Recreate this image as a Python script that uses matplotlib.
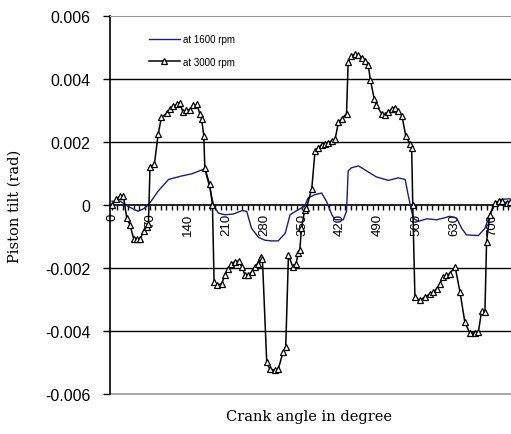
import matplotlib.pyplot as plt
import numpy as np

# angle de vilebrequin (deg) et inclinaison du piston (rad)
ang_3000 = [0, 8, 15, 21, 27, 33, 40, 46, 52, 58, 64, 67, 70, 78, 85, 91, 101,
            107, 113, 119, 125, 131, 137, 144, 150, 156, 162, 165, 169, 171, 180,
            185, 188, 193, 202, 208, 214, 220, 227, 233, 239, 245, 251, 257, 263,
            268, 274, 277, 285, 291, 300, 306, 315, 320, 325, 333, 339, 343, 346,
            349, 355, 358, 368, 374, 380, 386, 392, 398, 405, 411, 417, 423, 432,
            435, 441, 447, 454, 460, 466, 472, 476, 483, 487, 497, 503, 509, 515,
            521, 527, 534, 541, 549, 552, 554, 558, 567, 576, 586, 592, 598, 604,
            610, 616, 622, 632, 641, 650, 659, 668, 675, 681, 687, 690, 696, 705,
            712, 718, 727, 733]
tilt_3000 = [0.0, 0.00018, 0.0003, 0.00028, -0.0004, -0.00063, -0.00108, -0.00108,
             -0.00108, -0.00083, -0.0007, -0.0006, 0.00122, 0.00129, 0.00225,
             0.00278, 0.00291, 0.00305, 0.00313, 0.00319, 0.00323, 0.00294, 0.003,
             0.00302, 0.00316, 0.00319, 0.00289, 0.00273, 0.0022, 0.00116, 0.00065,
             0.0, -0.00245, -0.00255, -0.0025, -0.00223, -0.00202, -0.00186, -0.0018,
             -0.00178, -0.00196, -0.00223, -0.00221, -0.00214, -0.00196, -0.00186,
             -0.00164, -0.0017, -0.005, -0.00522, -0.00524, -0.00522, -0.00468,
             -0.0045, -0.00159, -0.00196, -0.00186, -0.00154, -0.00143, -0.00074,
             -0.00015, -0.0001, 0.00052, 0.00172, 0.00182, 0.00191, 0.00195,
             0.00198, 0.00204, 0.00209, 0.00262, 0.00273, 0.0029, 0.00454, 0.00472,
             0.00479, 0.00476, 0.00468, 0.00458, 0.00444, 0.00396, 0.00337, 0.00316,
             0.00289, 0.00287, 0.00294, 0.00305, 0.00308, 0.00298, 0.00284, 0.0022,
             0.00193, 0.00182, 0.0, -0.00292, -0.00303, -0.00292, -0.00282, -0.00276,
             -0.00266, -0.0025, -0.00228, -0.00223, -0.00218, -0.00196, -0.00276,
             -0.00372, -0.00406, -0.00406, -0.00402, -0.00335, -0.0034, -0.00116,
             -0.00031, 0.00006, 0.00012, 0.00012, 0.00006, 0.0001]

ang_1600 = [0, 15, 30, 48, 58, 67, 85, 104, 128, 147, 171, 180, 187, 196, 208,
            223, 239, 248, 257, 270, 282, 294, 306, 319, 328, 343, 355, 361, 374,
            386, 395, 405, 411, 426, 432, 435, 441, 454, 469, 487, 509, 527, 540,
            546, 552, 555, 564, 580, 598, 610, 622, 635, 644, 653, 675, 687, 696,
            705, 715, 733]
tilt_1600 = [0.00012, 0.00012, -0.00005, -0.0002, -0.00012, 0.0, 0.00044, 0.00081,
             0.00092, 0.00099, 0.00115, 0.00054, 0.0, -0.00026, -0.00031, -0.00029,
             -0.00018, -0.0002, -0.00074, -0.00103, -0.00112, -0.00114, -0.00114,
             -0.0009, -0.00031, -0.00015, -0.00004, 0.00022, 0.00033, 0.00038,
             0.00012, -0.00031, -0.00047, -0.00047, -0.0002, 0.00108, 0.00118,
             0.00124, 0.00108, 0.00089, 0.00078, 0.00086, 0.00081, 0.00028, -0.0002,
             -0.00042, -0.00052, -0.00044, -0.00047, -0.00042, -0.00036, -0.00042,
             -0.00074, -0.00095, -0.00097, -0.00074, -0.00031, 0.0, 0.00017, 0.0002]

yticks = [-0.006, -0.004, -0.002, 0, 0.002, 0.004, 0.006]
ylabels = ["-0.006", "-0.004", "-0.002", "0", "0.002", "0.004", "0.006"]
xticks = [0, 70, 140, 210, 280, 350, 420, 490, 560, 630, 700]

plt.rcParams['font.family'] = ['Liberation Sans', 'DejaVu Sans']

fig = plt.figure(figsize=(5.11, 4.35), dpi=100)
ax = fig.add_axes([0.215, 0.092, 0.785, 0.869])

for y in [-0.004, -0.002, 0.002, 0.004]:
    ax.axhline(y, color='black', lw=1, zorder=1)

ax.plot(ang_1600, tilt_1600, color='#1c1c8a', lw=1, label='at 1600 rpm', zorder=3)
ax.plot(ang_3000, tilt_3000, color='black', lw=1.1, marker='^', ms=4.5,
        mfc='white', mec='black', mew=0.9, label='at 3000 rpm', zorder=4)

ax.set_xlim(-4, 735)
ax.set_ylim(-0.006, 0.006)

ax.spines['bottom'].set_position(('data', 0))
ax.spines['bottom'].set_linewidth(1.2)
ax.spines['left'].set_linewidth(1.2)
ax.spines['top'].set_color('#999999')
ax.spines['right'].set_visible(False)
ax.axhline(-0.006, color='#999999', lw=1.2, clip_on=False)

ax.set_yticks(yticks)
ax.set_yticklabels(ylabels, fontsize=11.5)
ax.tick_params(axis='y', direction='out', length=5, width=1, pad=9)

ax.set_xticks(xticks)
ax.set_xticklabels([str(v) for v in xticks], rotation=90, fontsize=9.5)
ax.set_xticks(np.arange(0, 735, 10), minor=True)
ax.tick_params(axis='x', which='both', direction='out', length=3.5, width=1, pad=2)

ax.set_ylabel("Piston tilt (rad)", family='serif', fontsize=10.5)
ax.yaxis.set_label_coords(-0.22, 0.5)
fig.text(0.605, 0.025, "Crank angle in degree", family='serif', fontsize=10.5,
         ha='center', va='bottom')

ax.legend(loc='upper left', bbox_to_anchor=(0.075, 0.975), frameon=False,
          fontsize=7, handlelength=3.2, handletextpad=0.3, labelspacing=1.3)

fig.savefig("out.png", dpi=100)
